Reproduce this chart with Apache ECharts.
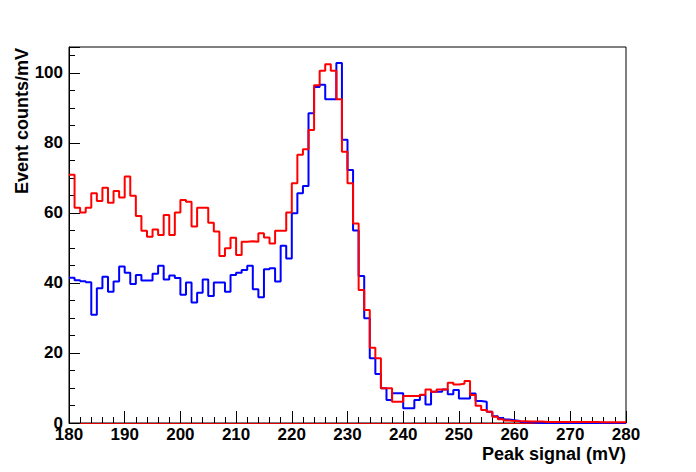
<!DOCTYPE html>
<html>
<head>
<meta charset="utf-8">
<script src="https://cdn.jsdelivr.net/npm/echarts@6/dist/echarts.min.js"></script>
<style>
html,body{margin:0;padding:0;background:#fff;}
#chart{width:696px;height:472px;}
</style>
</head>
<body>
<div id="chart"></div>
<script>
// Histogram: 1 mV bins starting at 180 mV
var binStart = 180;
var binWidth = 1;
var xTicks = [180,190,200,210,220,230,240,250,260,270,280];
var yTicks = [0,20,40,60,80,100];
var xTitle = 'Peak signal (mV)';
var yTitle = 'Event counts/mV';

var blueCounts = [
  41.5,40.8,40.5,40.2,30.9,38.5,41.8,37.5,40.4,44.7,
  42.9,39.7,42.3,40.7,40.7,42.6,44.9,41.0,42.1,41.4,
  36.6,40.1,34.4,37.2,41.0,36.3,40.1,40.1,37.5,42.3,
  42.9,43.7,44.9,38.2,35.9,43.9,44.2,40.4,50.6,47.0,
  59.9,65.6,67.7,88.5,96.0,96.6,92.5,92.5,102.8,80.9,
  72.3,55.0,42.0,29.9,18.5,14.0,9.9,6.6,8.5,8.5,
  4.2,4.2,6.6,8.0,5.3,8.9,8.9,9.6,8.2,9.4,
  7.0,7.0,8.4,6.3,6.1,3.2,1.9,1.4,1.0,0.8,
  0.6,0.3,0.2,0.1,0,0,0,0,0,0,
  0,0,0,0,0,0,0,0,0,0
];
var redCounts = [
  70.9,61.5,60.1,61.5,65.6,63.4,67.2,62.9,66.3,64.4,
  70.4,64.9,59.1,54.9,53.2,55.3,53.7,59.4,53.7,60.1,
  63.7,63.2,56.1,61.5,61.5,57.2,54.7,47.7,49.9,52.9,
  48.0,51.8,51.9,51.8,54.2,53.0,51.3,54.9,54.9,60.1,
  68.5,76.6,78.2,83.7,96.5,100.6,102.5,100.6,92.5,77.5,
  68.5,57.0,38.0,32.3,21.5,18.5,9.9,9.9,6.1,6.1,
  7.7,7.7,7.7,8.1,9.6,8.9,9.6,9.6,11.5,11.0,
  11.2,12.0,8.0,4.9,3.7,3.2,1.8,1.1,0.7,0.6,
  0.5,0.5,0.4,0.4,0.4,0.3,0.3,0.3,0.3,0.3,
  0.3,0.3,0.3,0.3,0.3,0.2,0.2,0.2,0.2,0.2
];

function toSteps(counts){
  var pts = [];
  for (var i = 0; i < counts.length; i++) pts.push([binStart + i*binWidth, counts[i]]);
  pts.push([binStart + counts.length*binWidth, counts[counts.length-1]]);
  return pts;
}

var W = 696, H = 472;
var G = {left:69, right:70, top:47, bottom:49};
var fontFam = '"Liberation Sans", Arial, Helvetica, sans-serif';
var titleFont = 'bold 18px ' + fontFam;

var chart = echarts.init(document.getElementById('chart'), null, {renderer:'svg'});
chart.setOption({
  animation:false,
  backgroundColor:'#ffffff',
  grid:{left:G.left, right:G.right, top:G.top, bottom:G.bottom, containLabel:false, outerBoundsMode:'none',
        show:true, borderColor:'#000', borderWidth:1, backgroundColor:'transparent'},
  graphic:[
    {type:'text', x:W-G.right, y:H-G.bottom+22, silent:true,
     style:{text:xTitle, font:titleFont, fill:'#000', align:'right', verticalAlign:'top', textAlign:'right', textVerticalAlign:'top'}},
    {type:'text', x:22, y:G.top+1, rotation:Math.PI/2, silent:true,
     style:{text:yTitle, font:titleFont, fill:'#000', align:'right', verticalAlign:'middle', textAlign:'right', textVerticalAlign:'middle'}}
  ],
  xAxis:{
    type:'value', min:xTicks[0], max:xTicks[xTicks.length-1], interval:10,
    axisLine:{show:true, onZero:false, lineStyle:{color:'#e00000', width:1}},
    axisTick:{show:true, inside:true, length:12, lineStyle:{color:'#000'}},
    minorTick:{show:true, splitNumber:5, length:6, lineStyle:{color:'#000'}},
    splitLine:{show:false},
    axisLabel:{fontFamily:fontFam, fontWeight:'bold', fontSize:17, color:'#000', margin:3}
  },
  yAxis:{
    type:'value', min:0, max:107.4, interval:20,
    axisLine:{show:true, lineStyle:{color:'#000', width:1}},
    axisTick:{show:true, inside:true, length:11, lineStyle:{color:'#000'}},
    minorTick:{show:true, splitNumber:4, length:6, lineStyle:{color:'#000'}},
    splitLine:{show:false},
    axisLabel:{fontFamily:fontFam, fontWeight:'bold', fontSize:17, color:'#000', margin:6,
      formatter:function(v){ return yTicks.indexOf(v) >= 0 ? String(v) : ''; }}
  },
  series:[
    {type:'line', step:'end', data:toSteps(blueCounts), showSymbol:false, symbol:'none',
     lineStyle:{color:'#0000ff', width:2}, z:2},
    {type:'line', step:'end', data:toSteps(redCounts), showSymbol:false, symbol:'none',
     lineStyle:{color:'#ff0000', width:2}, z:3}
  ]
});
</script>
</body>
</html>
